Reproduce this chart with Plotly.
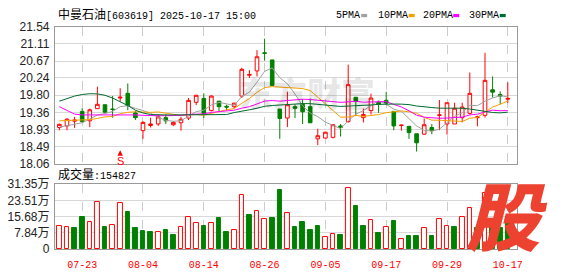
import plotly.graph_objects as go
import pandas as pd

W, H = 578, 276

dates = ["07-18", "07-21", "07-22", "07-23", "07-24", "07-25", "07-28", "07-29", "07-30", "07-31",
         "08-01", "08-04", "08-05", "08-06", "08-07", "08-08", "08-11", "08-12", "08-13", "08-14",
         "08-15", "08-18", "08-19", "08-20", "08-21", "08-22", "08-25", "08-26", "08-27", "08-28",
         "08-29", "09-01", "09-02", "09-03", "09-04", "09-05", "09-08", "09-09", "09-10", "09-11",
         "09-12", "09-15", "09-16", "09-17", "09-18", "09-19", "09-22", "09-23", "09-24", "09-25",
         "09-26", "09-29", "09-30", "10-09", "10-10", "10-13", "10-14", "10-15", "10-16", "10-17"]

opens = [18.98, 19.02, 19.14, 19.39, 19.15, 19.46, 19.56, 19.45, 19.73, 19.85,
         19.35, 18.90, 19.03, 19.07, 19.23, 19.05, 19.10, 19.22, 19.62, 19.72,
         19.41, 19.65, 19.52, 19.51, 19.78, 20.31, 20.42, 20.88, 20.70, 19.45,
         19.22, 19.51, 19.57, 19.51, 18.69, 18.71, 18.73, 19.02, 19.13, 19.75,
         19.23, 19.41, 19.62, 19.67, 19.39, 19.03, 19.01, 18.82, 18.81, 18.98,
         19.29, 19.07, 19.07, 19.23, 19.34, 19.23, 19.29, 19.94, 19.82, 19.70]
highs = [19.08, 19.22, 19.25, 19.47, 19.46, 20.02, 19.56, 19.78, 19.98, 20.10,
         19.41, 19.14, 19.23, 19.32, 19.31, 19.14, 19.25, 19.73, 19.81, 19.85,
         19.80, 19.66, 19.56, 19.61, 20.50, 20.44, 20.95, 21.24, 20.70, 19.45,
         19.89, 19.57, 19.70, 19.72, 18.95, 18.87, 19.07, 19.07, 20.58, 19.75,
         19.46, 19.84, 19.65, 19.89, 19.39, 19.05, 19.01, 18.82, 19.21, 19.07,
         19.68, 19.62, 19.61, 19.61, 20.38, 19.28, 20.88, 20.28, 19.90, 20.13]
lows = [18.91, 18.91, 18.97, 19.10, 18.99, 19.45, 19.33, 19.23, 19.64, 19.42,
        19.17, 18.69, 18.98, 19.02, 19.07, 19.02, 18.90, 19.17, 19.55, 19.22,
        19.39, 19.39, 19.41, 19.47, 19.73, 20.24, 20.28, 20.68, 20.04, 18.69,
        18.99, 19.22, 19.07, 19.10, 18.53, 18.70, 18.70, 18.75, 19.10, 19.27,
        19.11, 19.31, 19.35, 19.55, 18.91, 18.90, 18.69, 18.37, 18.80, 18.81,
        18.91, 18.80, 19.07, 19.11, 19.31, 19.01, 19.23, 19.74, 19.57, 19.60]
closes = [19.06, 19.19, 19.17, 19.13, 19.43, 19.57, 19.37, 19.44, 19.75, 19.54,
          19.23, 19.11, 19.07, 19.25, 19.15, 19.11, 19.19, 19.67, 19.80, 19.33,
          19.78, 19.51, 19.50, 19.60, 20.46, 20.33, 20.78, 20.87, 20.05, 19.21,
          19.56, 19.47, 19.38, 19.10, 18.77, 18.86, 19.05, 18.98, 20.07, 19.64,
          19.31, 19.73, 19.57, 19.60, 19.02, 19.04, 18.85, 18.59, 19.05, 18.90,
          19.30, 19.61, 19.47, 19.50, 19.85, 19.25, 20.18, 19.88, 19.78, 19.72]
# volume in 万 (10k)
volumes = [11.0, 10.55, 10.1, 15.6, 13.15, 22.8, 10.55, 11.8, 22.3, 17.9,
           10.1, 8.7, 8.26, 8.1, 9.2, 6.9, 10.4, 15.45, 12.7, 11.0,
           12.7, 15.1, 8.26, 9.0, 26.0, 16.5, 18.2, 14.7, 15.1, 28.4,
           17.3, 10.55, 12.85, 9.2, 11.0, 6.0, 7.2, 6.9, 29.2, 20.6,
           11.0, 14.2, 7.8, 10.55, 13.3, 4.9, 6.4, 6.4, 9.9, 6.4,
           14.5, 11.3, 10.55, 15.45, 20.0, 10.0, 27.1, 14.0, 10.0, 15.4827]

# moving-average values before a full window is available
ma5_head = [18.99, 19.03, 19.07, 19.10]
ma10_head = [19.15, 19.16, 19.165, 19.17, 19.18, 19.21, 19.25, 19.26, 19.33]
ma20_head = [19.51, 19.41, 19.32, 19.30, 19.30, 19.30, 19.30, 19.30, 19.31, 19.31,
             19.30, 19.29, 19.28, 19.28, 19.28, 19.28, 19.29, 19.31, 19.32]
ma30_head = [19.65, 19.71, 19.78, 19.82, 19.84, 19.835, 19.80, 19.73, 19.635, 19.54,
             19.42, 19.35, 19.31, 19.30, 19.30, 19.30, 19.30, 19.30, 19.30, 19.31,
             19.31, 19.31, 19.31, 19.36, 19.39, 19.43, 19.47, 19.52, 19.54]

price_ticks = [18.06, 18.49, 18.93, 19.36, 19.80, 20.24, 20.67, 21.11, 21.54]
vol_ticks = [0, 7.84, 15.68, 23.51, 31.35]
tick_dates = ["07-23", "08-04", "08-14", "08-26", "09-05", "09-17", "09-29", "10-17"]
signal_dates = ["07-30"]
signal_text = ["S"]

stock_title = "中曼石油"
stock_code = "[603619] 2025-10-17 15:00"
vol_label = "成交量"
last_volume = "154827"

ma_names = ["5PMA", "10PMA", "20PMA", "30PMA"]
ma_colors = ["#a0a0a0", "#f5a000", "#ff00ff", "#006b30"]
ma_heads = [ma5_head, ma10_head, ma20_head, ma30_head]
ma_windows = [5, 10, 20, 30]

RED = "#ff0000"
GREEN = "#008000"

idx = list(range(len(dates)))
cs = pd.Series(closes)
ma_series = []
for win, head in zip(ma_windows, ma_heads):
    full = cs.rolling(win).mean().tolist()
    ma_series.append(list(head) + full[len(head):])

vol_up = [True] + [closes[i] >= closes[i - 1] for i in range(1, len(closes))]

fig = go.Figure()
fig.add_trace(go.Candlestick(
    x=idx, open=opens, high=highs, low=lows, close=closes,
    increasing=dict(line=dict(color=RED, width=1), fillcolor="#ffffff"),
    decreasing=dict(line=dict(color=GREEN, width=1), fillcolor=GREEN),
    whiskerwidth=0, xaxis="x", yaxis="y", showlegend=False, hoverinfo="skip"))

for name, col, vals in zip(ma_names, ma_colors, ma_series):
    fig.add_trace(go.Scatter(x=idx, y=vals, mode="lines", name=name,
                             line=dict(color=col, width=1), xaxis="x", yaxis="y",
                             showlegend=False, hoverinfo="skip"))

fig.add_trace(go.Bar(
    x=idx, y=volumes, width=0.62,
    marker=dict(color=["#ffffff" if u else GREEN for u in vol_up],
                line=dict(color=[RED if u else GREEN for u in vol_up], width=1)),
    xaxis="x2", yaxis="y2", showlegend=False, hoverinfo="skip"))

x0p, x1p = 55.5 / W, 522.5 / W
xr = [-0.586, 60.22]
tick_idx = [dates.index(d) for d in tick_dates]

axis_common = dict(showline=True, mirror=True, linecolor="#999999", linewidth=1, zeroline=False)

fig.update_layout(
    width=W, height=H, margin=dict(l=0, r=0, t=0, b=0),
    paper_bgcolor="#ffffff", plot_bgcolor="#ffffff",
    boxgap=0.32, bargap=0,
    xaxis=dict(domain=[x0p, x1p], range=xr, anchor="y", tickvals=tick_idx,
               showticklabels=False, ticks="", showgrid=True, gridcolor="#cccccc",
               griddash="dash", gridwidth=1, rangeslider=dict(visible=False), **axis_common),
    yaxis=dict(domain=[1 - 165 / H, 1 - 21 / H], range=[price_ticks[0], price_ticks[-1]],
               tickvals=price_ticks, ticktext=[f"{v:.2f}" for v in price_ticks],
               ticks="", showgrid=True, gridcolor="#d8d8d8", gridwidth=1,
               tickfont=dict(family="Liberation Sans, Arial", size=12, color="#222222"),
               ticklabelstandoff=2, **axis_common),
    xaxis2=dict(domain=[x0p, x1p], range=xr, anchor="y2", tickvals=tick_idx, ticktext=tick_dates,
                ticks="", showgrid=True, gridcolor="#cccccc", griddash="dash", gridwidth=1,
                tickfont=dict(family="Liberation Mono, monospace", size=10, color=RED),
                ticklabelstandoff=6, **axis_common),
    yaxis2=dict(domain=[1 - 255 / H, 1 - 186.5 / H], range=[vol_ticks[0], vol_ticks[-1]],
                tickvals=vol_ticks,
                ticktext=["0"] + [f"{v:.2f}万" for v in vol_ticks[1:]],
                ticks="", showgrid=True, gridcolor="#d8d8d8", gridwidth=1,
                tickfont=dict(family="Liberation Sans, Noto Sans CJK SC", size=12, color="#222222"),
                ticklabelstandoff=2, **axis_common),
)

ann = []
# title
ann.append(dict(xref="paper", yref="paper", x=57 / W, y=1 - 8.5 / H, xanchor="left", yanchor="middle",
                showarrow=False,
                text=f'<span style="font-size:12px">{stock_title}</span>{stock_code}',
                font=dict(family="Liberation Mono, Noto Sans CJK SC", size=10, color="#000000")))
# volume label
ann.append(dict(xref="paper", yref="paper", x=57 / W, y=1 - 177 / H, xanchor="left", yanchor="middle",
                showarrow=False,
                text=f'<span style="font-size:12px">{vol_label}</span>:{last_volume}',
                font=dict(family="Liberation Mono, Noto Sans CJK SC", size=10, color="#000000")))
# legend
leg_text_x = [338, 380, 425, 472]
for name, col, lx in zip(ma_names, ma_colors, leg_text_x):
    ann.append(dict(xref="paper", yref="paper", x=lx / W, y=1 - 9 / H, xanchor="left", yanchor="middle",
                    showarrow=False, text=name,
                    font=dict(family="Liberation Mono, monospace", size=10, color="#000000")))
shapes = []
for name, col, lx in zip(ma_names, ma_colors, leg_text_x):
    sx = lx + len(name) * 6 + 3
    shapes.append(dict(type="rect", xref="paper", yref="paper", x0=sx / W, x1=(sx + 6) / W,
                       y0=1 - 10.7 / H, y1=1 - 7.3 / H, fillcolor=col, line=dict(width=0)))
# watermark
ann.append(dict(xref="paper", yref="paper", x=310 / W, y=1 - 90 / H, xanchor="center", yanchor="middle",
                showarrow=False, text="东方财富",
                font=dict(family="Noto Sans CJK SC", size=34, color="rgba(0,0,0,0.09)", weight=900)))
# signal marker: "S" with a small up arrow above it
for d, t in zip(signal_dates, signal_text):
    ann.append(dict(xref="x", yref="y domain", x=dates.index(d), y=0.098,
                    showarrow=True, ax=0, ay=11, arrowhead=2, arrowsize=0.9, arrowwidth=1.2,
                    arrowcolor=RED, standoff=0, startstandoff=0, borderpad=0,
                    text=t, font=dict(family="Liberation Sans", size=11, color=RED)))
# big logo
ann.append(dict(xref="paper", yref="paper", x=512 / W, y=1 - 216.5 / H, xanchor="center", yanchor="middle",
                showarrow=False, text="股",
                font=dict(family="Noto Sans CJK SC", size=74, color="#ee4230", weight=900, style="italic")))

fig.update_layout(annotations=ann, shapes=shapes)
fig.write_html("out.html")
